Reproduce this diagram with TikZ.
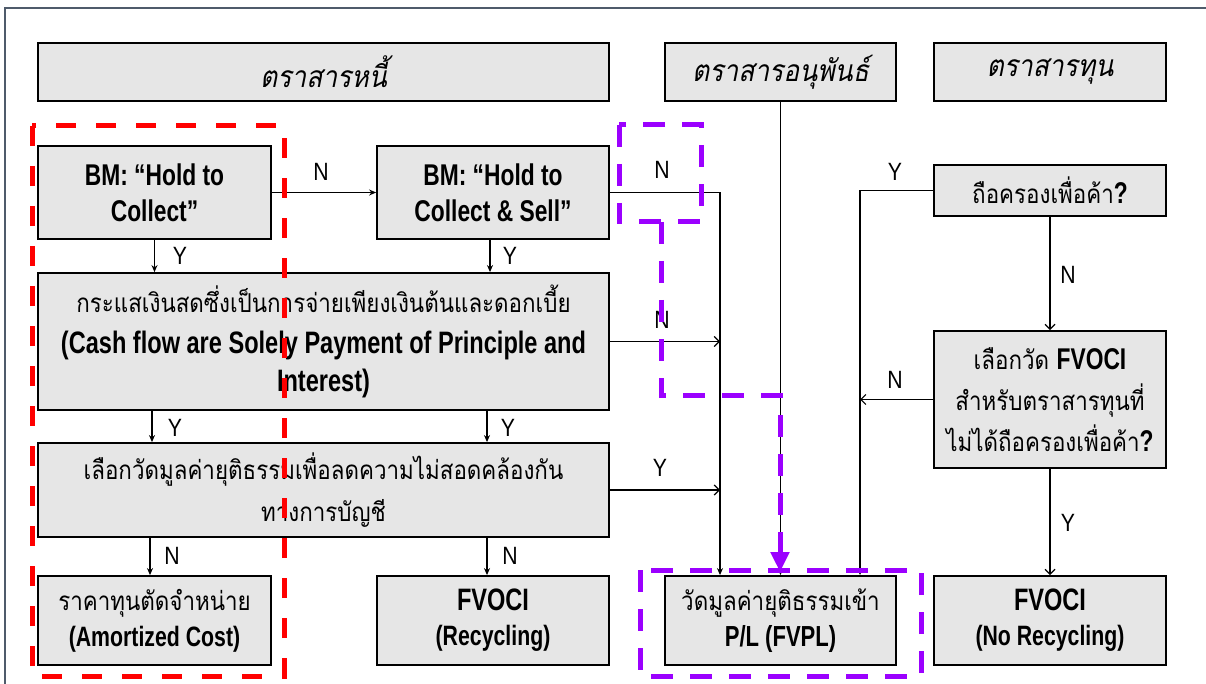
\documentclass[tikz,border=0pt]{standalone}
\usepackage{fontspec}
\setmainfont{Liberation Sans}
\newfontfamily\thai[Script=Thai,FakeStretch=0.86]{Loma}
\newfontfamily\thaiit[Script=Thai,FakeSlant=0.2,FakeStretch=0.88]{Loma}
\newfontfamily\cond[FakeStretch=0.76]{Liberation Sans}
\newfontfamily\lblf[FakeStretch=0.85]{Liberation Sans}
\usetikzlibrary{arrows.meta}
\definecolor{boxgray}{HTML}{E6E6E6}
\definecolor{framegray}{HTML}{4F5B6B}
\definecolor{hlred}{HTML}{FF0000}
\definecolor{hlviolet}{HTML}{9B00FF}
\newcommand\setfs[2]{\fontsize{#1}{#2}\selectfont}
\newcommand\entx[1]{{\cond\bfseries #1}}
\newcommand\tht[1]{{\thai #1}}
\tikzset{
  box/.style={draw=black, line width=1.8pt, fill=boxgray, inner sep=0pt, align=center},
  arr/.style={line width=1.2pt, -{Stealth[length=7pt,width=6pt]}},
  arrb/.style={line width=1.2pt, -{Straight Barb[length=5pt,width=10pt]}},
  yn/.style={font=\lblf\setfs{25}{25}, inner sep=0pt},
  hred/.style={draw=hlred, line width=5pt, dash pattern=on 20pt off 20pt},
  hviol/.style={draw=hlviolet, line width=5pt, dash pattern=on 22pt off 17pt},
  hdr/.style={font=\thaiit\setfs{30}{30}},
}
\begin{document}
\begin{tikzpicture}[x=1pt,y=-1pt]
\useasboundingbox (0,0) rectangle (1206,684);
% frame
\draw[framegray, line width=2pt] (5,684) -- (5,8) -- (1206,8);
% headers
\node[box, minimum width=571, minimum height=58, hdr] (h1) at (323.5,72) {ตราสารหนี้};
\node[box, minimum width=231, minimum height=58, hdr] (h2) at (780.5,72) {ตราสารอนุพันธ์};
\node[box, minimum width=232, minimum height=58, hdr] (h3) at (1050,72) {ตราสารทุน};
% debt column
\node[box, minimum width=233, minimum height=93, font=\cond\bfseries\setfs{30}{36}] (bm1) at (154.5,192.5)
  {BM: “Hold to\\Collect”};
\node[box, minimum width=232, minimum height=93, font=\cond\bfseries\setfs{30}{36}] (bm2) at (493,192.5)
  {BM: “Hold to\\Collect \& Sell”};
\node[box, minimum width=571, minimum height=137, font=\setfs{30}{38}] (sppi) at (323.5,341.5)
  {\tht{\setfs{26}{38}กระแสเงินสดซึ่งเป็นการจ่ายเพียงเงินต้นและดอกเบี้ย}\\[3pt]
   \entx{\setfs{31}{38}(Cash flow are Solely Payment of Principle and}\\
   \entx{\setfs{31}{38}Interest)}};
\node[box, minimum width=571, minimum height=94, font=\setfs{26}{42}] (fvo) at (323.5,490)
  {\tht{\setfs{26}{42}เลือกวัดมูลค่ายุติธรรมเพื่อลดความไม่สอดคล้องกัน}\\
   \tht{\setfs{26}{42}ทางการบัญชี}};
\node[box, minimum width=233, minimum height=89, font=\setfs{28}{36}] (ac) at (154.5,620.5)
  {\tht{\setfs{26}{36}ราคาทุนตัดจำหน่าย}\\\entx{\setfs{28}{36}(Amortized Cost)}};
\node[box, minimum width=232, minimum height=89, font=\setfs{30}{35}] (fvr) at (493,620.5)
  {\entx{\setfs{31}{35}FVOCI}\\\entx{\setfs{28}{35}(Recycling)}};
\node[box, minimum width=231, minimum height=89, font=\setfs{28}{36}] (pl) at (780.5,620.5)
  {\tht{\setfs{26}{36}วัดมูลค่ายุติธรรมเข้า}\\\entx{\setfs{29}{36}P/L (FVPL)}};
\node[box, minimum width=232, minimum height=89, font=\setfs{30}{35}] (fvn) at (1050,620.5)
  {\entx{\setfs{31}{35}FVOCI}\\\entx{\setfs{28}{35}(No Recycling)}};
% equity column
\node[box, minimum width=232, minimum height=51, font=\setfs{26}{30}] (hold) at (1050,190.5)
  {\tht{\setfs{26}{30}ถือครองเพื่อค้า}\entx{\setfs{30}{30}?}};
\node[box, minimum width=232, minimum height=137, font=\setfs{28}{41}] (choice) at (1050,399.5)
  {\tht{\setfs{26}{41}เลือกวัด }\entx{\setfs{30}{41}FVOCI}\\
   \tht{\setfs{26}{41}สำหรับตราสารทุนที่}\\
   \tht{\setfs{26}{41}ไม่ได้ถือครองเพื่อค้า}\entx{\setfs{30}{41}?}};
% junction coordinates
\coordinate (jn) at (720,192);
\coordinate (jr) at (860,190);
% connectors, left
\draw[arr] (bm1.south) -- (bm1.south |- sppi.north);
\draw[arr] ([xshift=-3pt]bm2.south) -- ([xshift=-3pt]bm2.south |- sppi.north);
\draw[arr] ([xshift=-2.5pt]bm1.south |- sppi.south) -- ([xshift=-2.5pt]bm1.south |- fvo.north);
\draw[arr] ([xshift=-6pt]bm2.south |- sppi.south) -- ([xshift=-6pt]bm2.south |- fvo.north);
\draw[arr] ([xshift=-4.5pt]bm1.south |- fvo.south) -- ([xshift=-4.5pt]bm1.south |- ac.north);
\draw[arr] ([xshift=-6pt]bm2.south |- fvo.south) -- ([xshift=-6pt]bm2.south |- fvr.north);
\draw[arr] (bm1.east) -- (bm2.west);
% to FVPL
\draw[arr] (bm2.east) -| (jn |- pl.north);
\draw[arrb] (sppi.east) -- (sppi.east -| jn);
\draw[arrb] (fvo.east) -- (fvo.east -| jn);
\draw[arr] (h2.south) -- (pl.north);
\draw[arr] (hold.west) -| (jr |- pl.north);
\draw[arrb] (choice.west) -- (choice.west -| jr);
\draw[arrb] (hold.south) -- (choice.north);
\draw[arrb] (choice.south) -- (fvn.north);
% labels
\node[yn] (l1) at (321,172) {N};
\node[yn] (l2) at (180,256) {Y};
\node[yn] (l3) at (510,256) {Y};
\node[yn] (l4) at (662,170) {N};
\node[yn] (l5) at (662,320) {N};
\node[yn] (l6) at (175,428) {Y};
\node[yn] (l7) at (508,428) {Y};
\node[yn] (l8) at (660,468) {Y};
\node[yn] (l9) at (172,556) {N};
\node[yn] (l10) at (510,556) {N};
\node[yn] (l11) at (895,172) {Y};
\node[yn] (l12) at (1068,275) {N};
\node[yn] (l13) at (895,380) {N};
\node[yn] (l14) at (1068,523) {Y};
% highlights
\draw[hred] (32,126) rectangle (284,676);
\draw[hviol] (619,125) rectangle (701,222);
\draw[hviol] (640,570) rectangle (921,676);
\draw[hviol, -{Triangle[length=20pt,width=18pt]}] (661,222) -- (661,395) -- (780,395) -- (780,572);
\end{tikzpicture}
\end{document}
